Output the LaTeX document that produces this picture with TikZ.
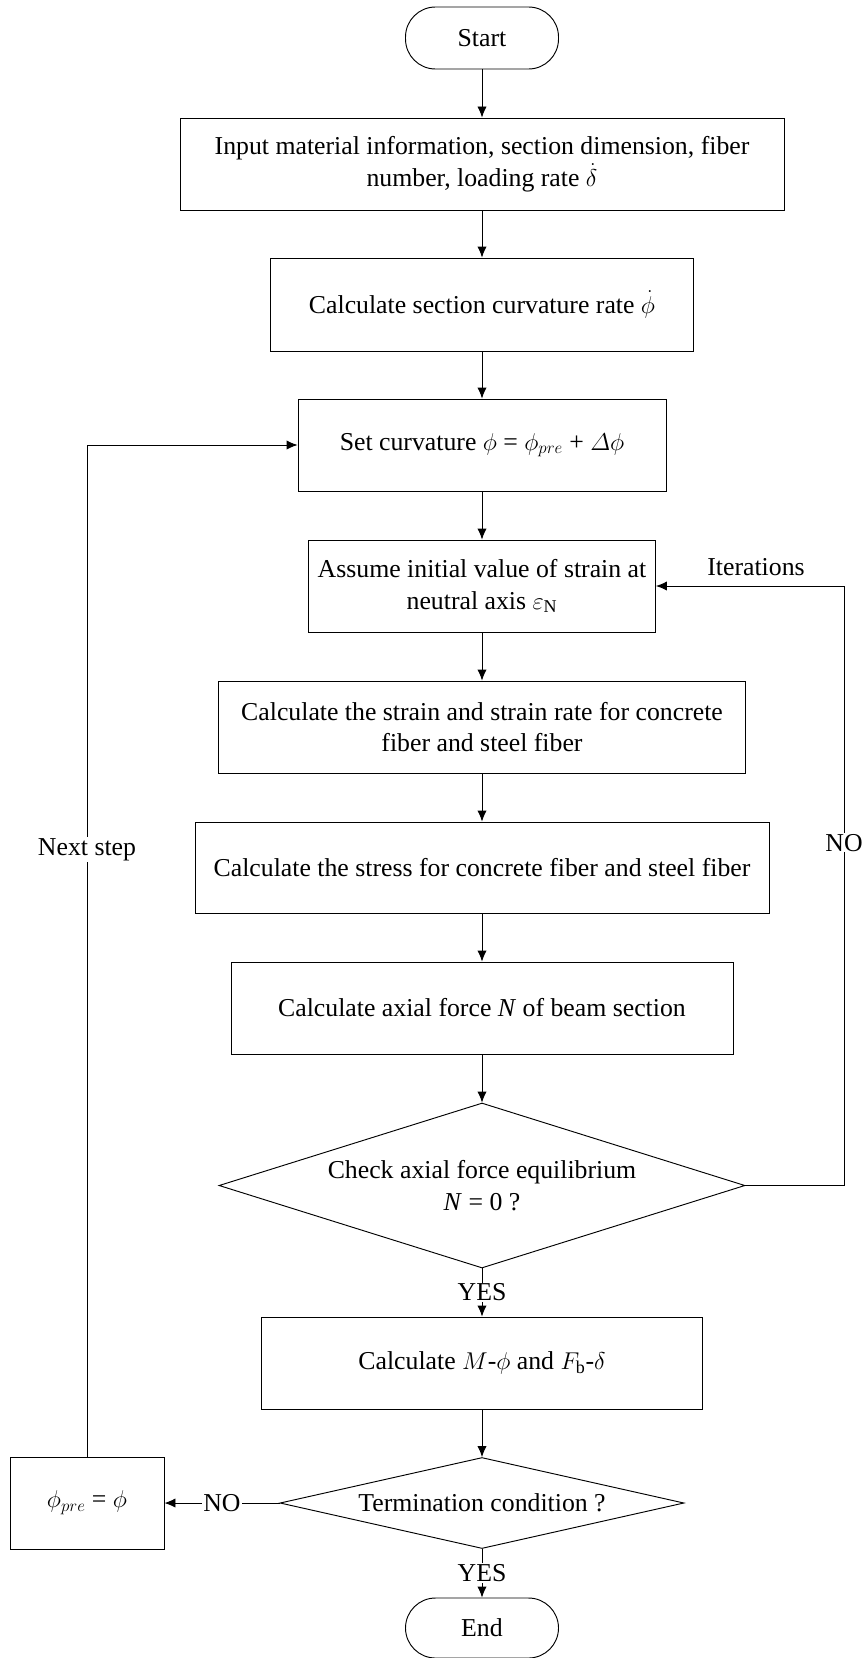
\documentclass[tikz,border=0pt]{standalone}
\usepackage{fontspec}
\setmainfont{Liberation Serif}
\usepackage{amsmath}
\usetikzlibrary{shapes}
\usetikzlibrary{arrows.meta}

\begin{document}
\begin{tikzpicture}[font=\fontsize{22}{27}\selectfont, line width=0.8pt,
  box/.style={draw, rectangle, align=center, inner sep=0pt},
  decision/.style={draw, diamond, align=center, inner sep=0pt},
  terminal/.style={draw, rectangle, rounded corners=0.9cm, minimum width=4.59cm, minimum height=1.86cm},
  arrow/.style={-{Latex[length=0.33cm, width=0.28cm]}},
  lbl/.style={fill=white, inner sep=1pt}]
\useasboundingbox (0,0) rectangle (26.01,-49.74);
% main column
\node [terminal] (start) at (14.46,-1.14) {Start};
\node [box, minimum width=18.12cm, minimum height=2.76cm] (input) at (14.46,-4.92)
  {Input material information, section dimension, fiber\\ number, loading rate $\dot{\delta}$};
\node [box, minimum width=12.69cm, minimum height=2.79cm] (rate) at (14.46,-9.135)
  {Calculate section curvature rate $\dot{\phi}$};
\node [box, minimum width=11.04cm, minimum height=2.76cm] (curv) at (14.46,-13.35)
  {Set curvature $\phi$ = $\phi_{pre}$ + $\varDelta\phi$};
\node [box, minimum width=10.41cm, minimum height=2.76cm] (assume) at (14.46,-17.58)
  {Assume initial value of strain at\\ neutral axis $\varepsilon_{\mathrm{N}}$};
\node [box, minimum width=15.81cm, minimum height=2.76cm] (strain) at (14.46,-21.81)
  {Calculate the strain and strain rate for concrete\\ fiber and steel fiber};
\node [box, minimum width=17.22cm, minimum height=2.73cm] (stress) at (14.46,-26.025)
  {Calculate the stress for concrete fiber and steel fiber};
\node [box, minimum width=15.06cm, minimum height=2.76cm] (axial) at (14.46,-30.24)
  {Calculate axial force \textit{N} of beam section};
\node [decision, aspect=3.2, minimum width=15.78cm, minimum height=4.95cm] (check) at (14.46,-35.565)
  {Check axial force equilibrium\\ \textit{N} = 0 ?};
\node [box, minimum width=13.23cm, minimum height=2.76cm] (mphi) at (14.46,-40.89)
  {Calculate $M$-$\phi$ and $F_{\mathrm{b}}$-$\delta$};
\node [decision, aspect=4.4, minimum width=12.12cm, minimum height=2.73cm] (term) at (14.46,-45.09)
  {Termination condition ?};
\node [terminal, minimum height=1.8cm] (end) at (14.46,-48.84) {End};
% update box
\node [box, minimum width=4.62cm, minimum height=2.76cm] (update) at (2.61,-45.09)
  {$\phi_{pre}$ = $\phi$};
\coordinate (right) at (25.32,-35.565);
\node (iter) at (22.68,-17.01) {Iterations};
% arrows
\draw [arrow] (start) -- (input);
\draw [arrow] (input) -- (rate);
\draw [arrow] (rate) -- (curv);
\draw [arrow] (curv) -- (assume);
\draw [arrow] (assume) -- (strain);
\draw [arrow] (strain) -- (stress);
\draw [arrow] (stress) -- (axial);
\draw [arrow] (axial) -- (check);
\draw [arrow] (check) -- node [lbl] {YES} (mphi);
\draw [arrow] (mphi) -- (term);
\draw [arrow] (term) -- node [lbl] {YES} (end);
\draw [arrow] (term) -- node [lbl] {NO} (update);
\draw [arrow] (update) |- node [lbl, pos=0.3] {Next step} (curv);
\draw [arrow] (check.east) -- (right) |- node [lbl, pos=0.286] {NO} (assume.east);
\end{tikzpicture}
\end{document}
